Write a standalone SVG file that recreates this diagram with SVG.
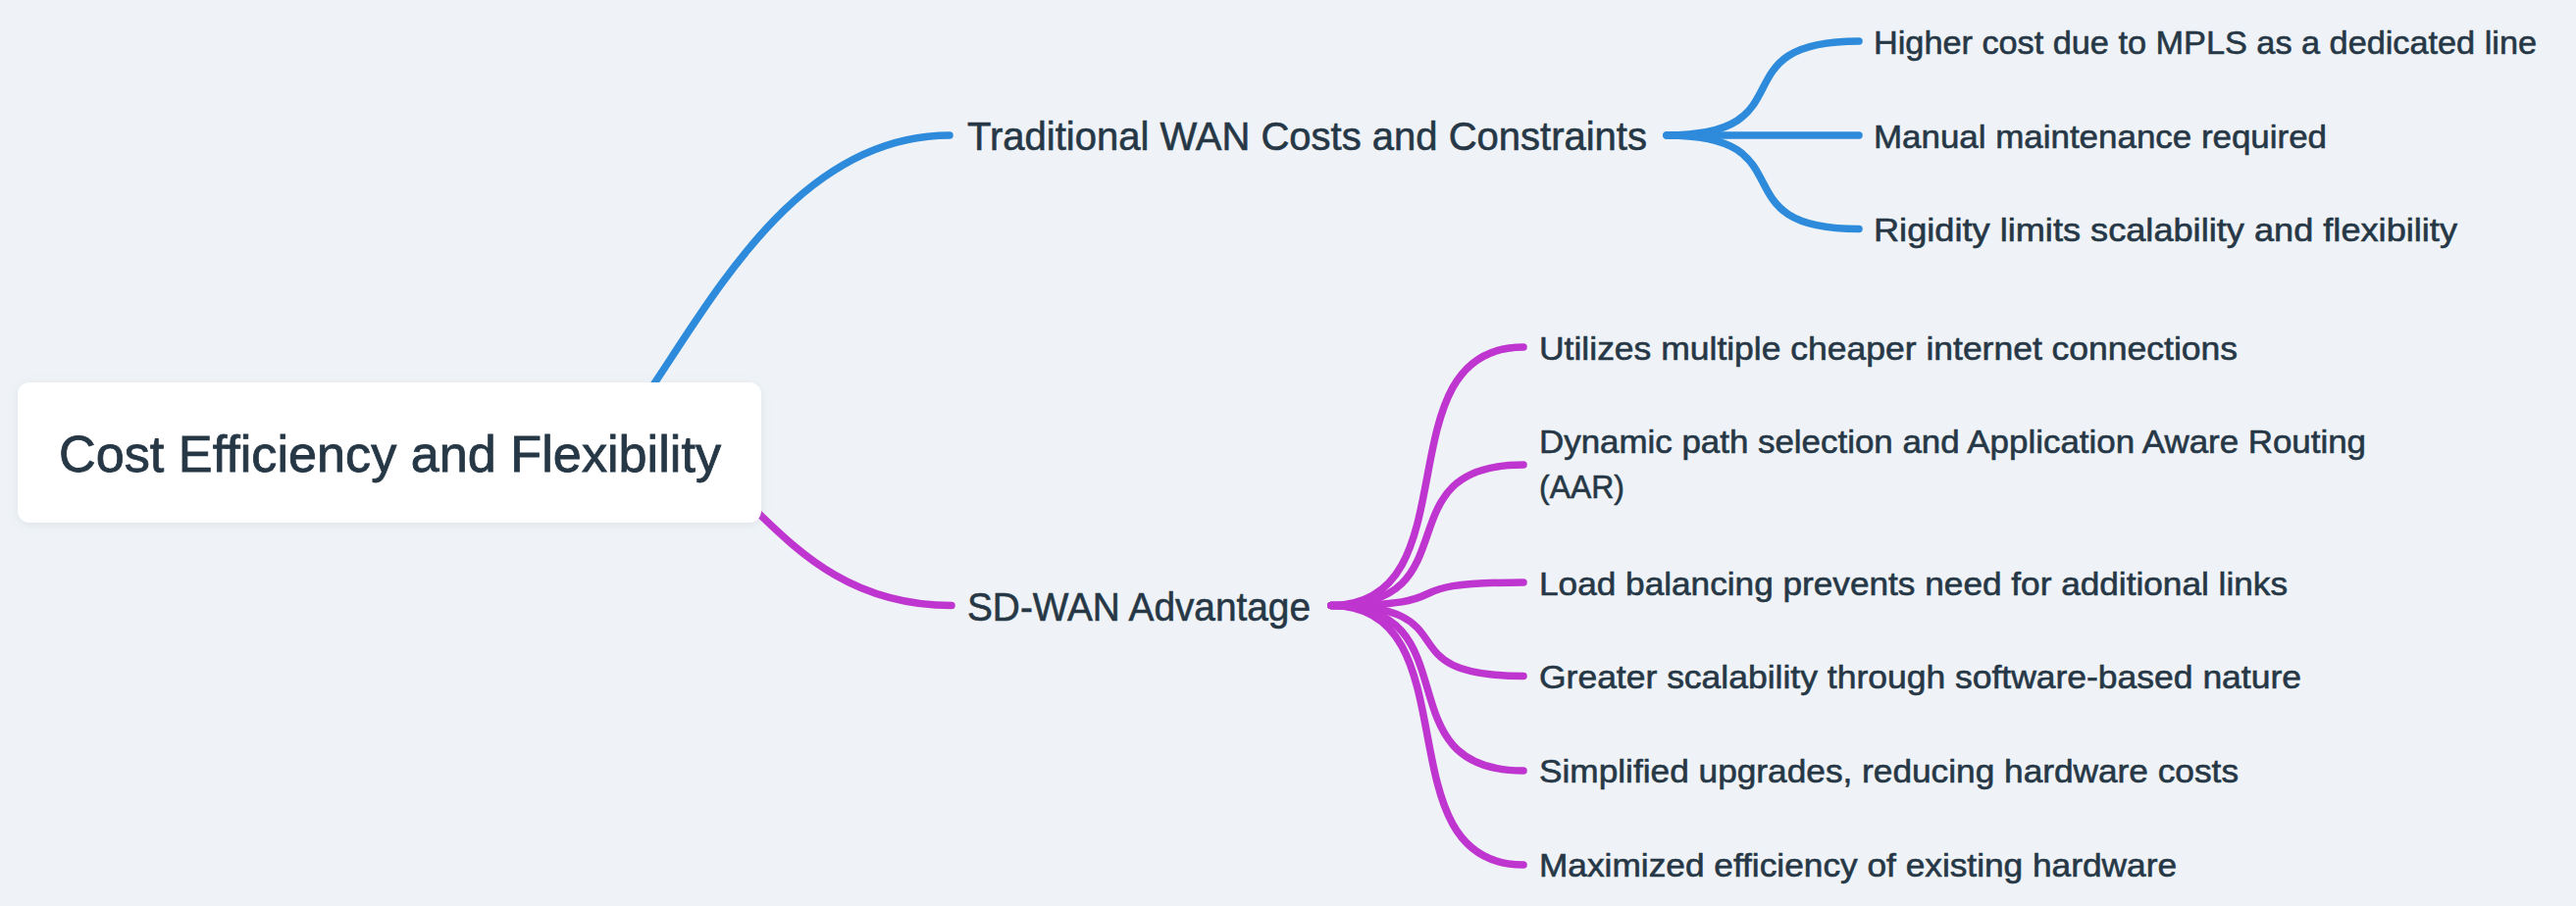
<svg xmlns="http://www.w3.org/2000/svg" width="2626" height="924" viewBox="0 0 2626 924">
  <defs>
    <filter id="shadow" x="-10%" y="-30%" width="120%" height="160%">
      <feDropShadow dx="0" dy="2" stdDeviation="5" flood-color="#8a9aab" flood-opacity="0.18"/>
    </filter>
    <style>
      .bg { fill: #eff3f7; }
      .link { fill: none; stroke-width: 7.5; stroke-linecap: round; }
      .blue { stroke: #2e8bdb; }
      .purple { stroke: #bf35cf; }
      .t { font-family: "Liberation Sans", Arial, sans-serif; fill: #263746; stroke: #263746; stroke-width: 0.6px; }
      .root { font-size: 52px; stroke-width: 0.8px; }
      .l1 { font-size: 41px; }
      .leaf { font-size: 34px; }
    </style>
  </defs>
  <rect class="bg" x="0" y="0" width="2626" height="924"/>

  <g id="connectors">
    <path class="link blue" d="M640,430 C712,334 800,138 968,138"/>
    <path class="link blue" d="M1699,138 C1846,138 1748,42 1895,42"/>
    <path class="link blue" d="M1699,138 L1895,138"/>
    <path class="link blue" d="M1699,138 C1846,138 1748,233.5 1895,233.5"/>

    <path class="link purple" d="M750,502 C795,540 850,617.5 970,617.5"/>
    <path class="link purple" d="M1357,617.5 C1504,617.5 1406,354 1553,354"/>
    <path class="link purple" d="M1357,617.5 C1504,617.5 1406,474 1553,474"/>
    <path class="link purple" d="M1357,617.5 C1504,617.5 1406,594 1553,594"/>
    <path class="link purple" d="M1357,617.5 C1504,617.5 1406,689.5 1553,689.5"/>
    <path class="link purple" d="M1357,617.5 C1504,617.5 1406,786 1553,786"/>
    <path class="link purple" d="M1357,617.5 C1504,617.5 1406,882 1553,882"/>
  </g>

  <g id="root">
    <rect x="18" y="390" width="758" height="143" rx="12" ry="12" fill="#ffffff" filter="url(#shadow)"/>
    <text class="t root" x="397.5" y="481" text-anchor="middle" textLength="675" lengthAdjust="spacingAndGlyphs">Cost Efficiency and Flexibility</text>
  </g>

  <g id="traditional">
    <text class="t l1" x="986" y="153" textLength="693" lengthAdjust="spacingAndGlyphs">Traditional WAN Costs and Constraints</text>
  </g>
  <g id="sdwan">
    <text class="t l1" x="986" y="633" textLength="350" lengthAdjust="spacingAndGlyphs">SD-WAN Advantage</text>
  </g>

  <g id="t-higher-cost">
    <text class="t leaf" x="1910" y="54.5" textLength="676" lengthAdjust="spacingAndGlyphs">Higher cost due to MPLS as a dedicated line</text>
  </g>
  <g id="t-manual">
    <text class="t leaf" x="1910" y="150.5" textLength="462" lengthAdjust="spacingAndGlyphs">Manual maintenance required</text>
  </g>
  <g id="t-rigidity">
    <text class="t leaf" x="1910" y="246" textLength="595" lengthAdjust="spacingAndGlyphs">Rigidity limits scalability and flexibility</text>
  </g>

  <g id="s-utilizes">
    <text class="t leaf" x="1569" y="366.5" textLength="712" lengthAdjust="spacingAndGlyphs">Utilizes multiple cheaper internet connections</text>
  </g>
  <g id="s-dynamic">
    <text class="t leaf" x="1569" y="461.5" textLength="843" lengthAdjust="spacingAndGlyphs">Dynamic path selection and Application Aware Routing</text>
    <text class="t leaf" x="1569" y="508" textLength="87" lengthAdjust="spacingAndGlyphs">(AAR)</text>
  </g>
  <g id="s-load">
    <text class="t leaf" x="1569" y="606.5" textLength="763" lengthAdjust="spacingAndGlyphs">Load balancing prevents need for additional links</text>
  </g>
  <g id="s-greater">
    <text class="t leaf" x="1569" y="702" textLength="777" lengthAdjust="spacingAndGlyphs">Greater scalability through software-based nature</text>
  </g>
  <g id="s-simplified">
    <text class="t leaf" x="1569" y="798" textLength="713" lengthAdjust="spacingAndGlyphs">Simplified upgrades, reducing hardware costs</text>
  </g>
  <g id="s-maximized">
    <text class="t leaf" x="1569" y="894" textLength="650" lengthAdjust="spacingAndGlyphs">Maximized efficiency of existing hardware</text>
  </g>
</svg>
